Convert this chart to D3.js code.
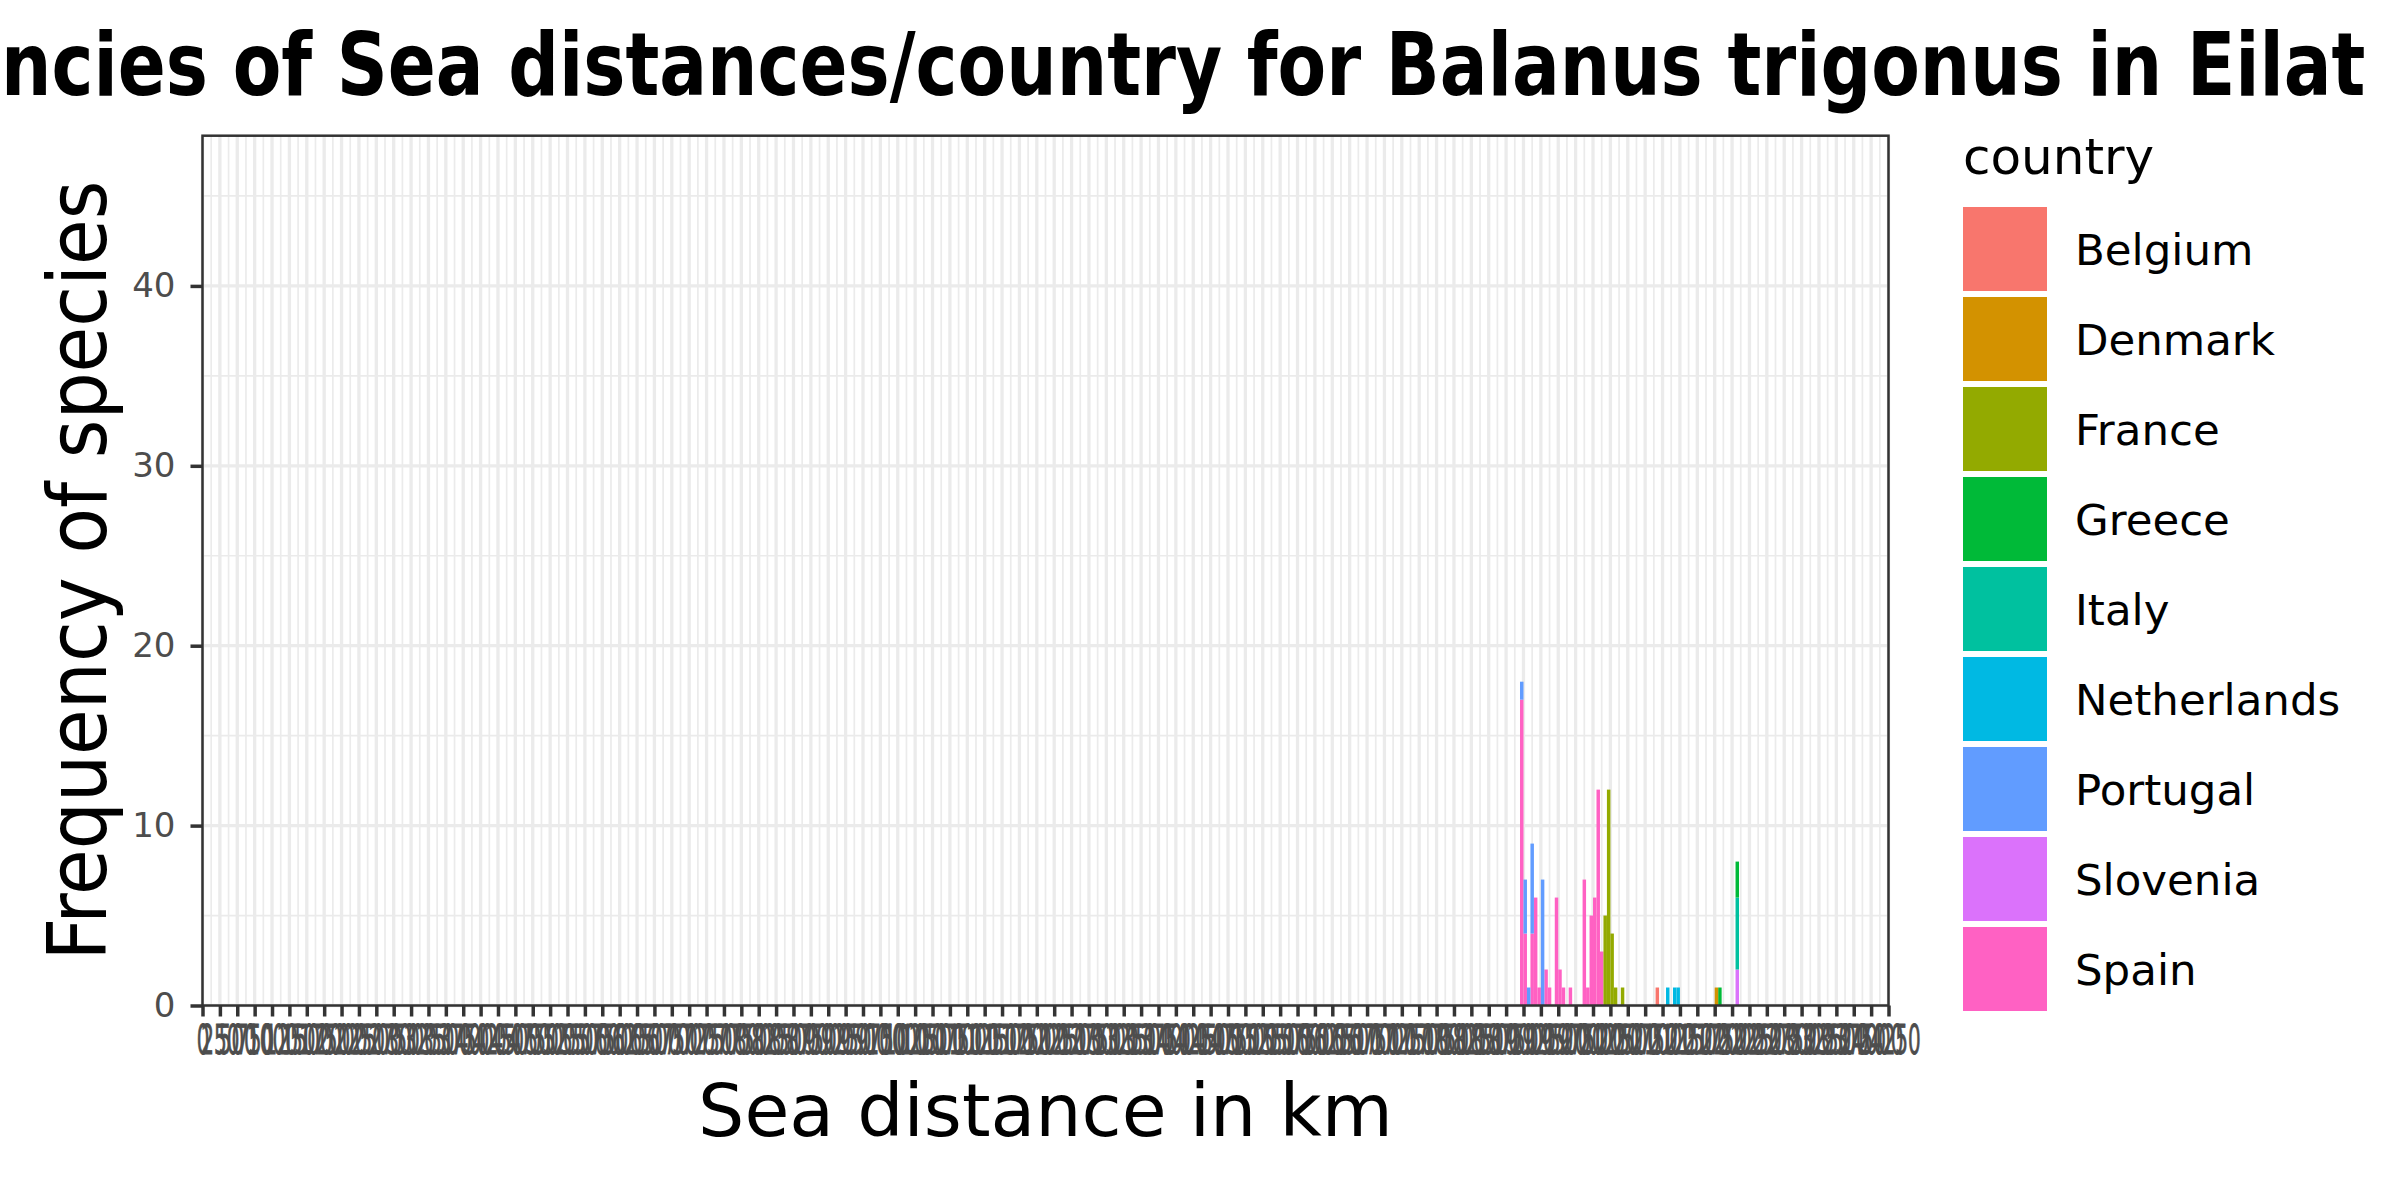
<!DOCTYPE html>
<html>
<head>
<meta charset="utf-8">
<script src="https://cdn.jsdelivr.net/npm/d3@7"></script>
<style>
body { margin: 0; background: #fff; }
</style>
</head>
<body>
<svg id="svg1" width="2400" height="1200"></svg>
<script>
// factor levels, ggplot hue colours
var countries = ["Belgium", "Denmark", "France", "Greece", "Italy", "Netherlands", "Portugal", "Slovenia", "Spain"];
var colours = ["#F8766D", "#D39200", "#93AA00", "#00BA38", "#00C19F", "#00B9E3", "#619CFF", "#DB72FB", "#FF61C3"];

// histogram, 50 km bins : left edge of bin, country, count
var binKm = [18950, 18950, 19000, 19000, 19050, 19100, 19100, 19150, 19200, 19250, 19300, 19350,
             19450, 19500, 19550, 19650, 19850, 19900, 19950, 20000, 20050, 20100,
             20150, 20200, 20250, 20300, 20400, 20900, 21050, 21150, 21200, 21750, 21800,
             22050, 22050, 22050];
var binCountry = ["Spain", "Portugal", "Spain", "Portugal", "Portugal", "Spain", "Portugal", "Spain", "Spain", "Portugal", "Spain", "Spain",
                  "Spain", "Spain", "Spain", "Spain", "Spain", "Spain", "Spain", "Spain", "Spain", "Spain",
                  "France", "France", "France", "France", "France", "Belgium", "Netherlands", "Netherlands", "Netherlands", "Denmark", "Greece",
                  "Slovenia", "Italy", "Greece"];
var binCount = [17, 1, 4, 3, 1, 4, 5, 6, 1, 7, 2, 1,
                6, 2, 1, 1, 7, 1, 5, 6, 12, 3,
                5, 12, 4, 1, 1, 1, 1, 1, 1, 1, 1,
                2, 4, 2];
var binWidth = 50;

var xBreaks = d3.range(0, 24251, 250);
var xMinor = d3.range(125, 24250, 250);
var yBreaks = [0, 10, 20, 30, 40];
var yMinor = [5, 15, 25, 35, 45];

var titleText = "Frequencies of Sea distances/country for Balanus trigonus in Eilat";
var xTitle = "Sea distance in km";
var yTitle = "Frequency of species";
var legendTitle = "country";

// panel edges (top is taken by window.top, so p*)
var pLeft = 202.5, pRight = 1888.5, pTop = 135.7, pBottom = 1005.5;

var svg = d3.select("#svg1");

var x = d3.scaleLinear().domain([0, 24250]).range([pLeft, pRight]);
var y = d3.scaleLinear().domain([0, 48.35]).range([pBottom, pTop]);
var colour = d3.scaleOrdinal().domain(countries).range(colours);

// grid
var grid = svg.append("g");
grid.selectAll(".vmin").data(xMinor).enter().append("line")
    .attr("x1", d => x(d)).attr("x2", d => x(d))
    .attr("y1", pTop).attr("y2", pBottom)
    .attr("stroke", "#EBEBEB").attr("stroke-width", 1.7);
grid.selectAll(".hmin").data(yMinor).enter().append("line")
    .attr("x1", pLeft).attr("x2", pRight)
    .attr("y1", d => y(d)).attr("y2", d => y(d))
    .attr("stroke", "#EBEBEB").attr("stroke-width", 1.7);
grid.selectAll(".vmaj").data(xBreaks).enter().append("line")
    .attr("x1", d => x(d)).attr("x2", d => x(d))
    .attr("y1", pTop).attr("y2", pBottom)
    .attr("stroke", "#EBEBEB").attr("stroke-width", 3.3);
grid.selectAll(".hmaj").data(yBreaks).enter().append("line")
    .attr("x1", pLeft).attr("x2", pRight)
    .attr("y1", d => y(d)).attr("y2", d => y(d))
    .attr("stroke", "#EBEBEB").attr("stroke-width", 3.3);

// one row per bin, stacked with first level on top (like ggplot)
var bins = Array.from(new Set(binKm));
var table = bins.map(function (b) {
    var row = { km: b };
    countries.forEach(c => row[c] = 0);
    return row;
});
binKm.forEach(function (b, i) {
    table[bins.indexOf(b)][binCountry[i]] += binCount[i];
});

var stack = d3.stack().keys(countries.slice().reverse());
var layers = stack(table);

svg.append("g").selectAll("g").data(layers).enter().append("g")
    .attr("fill", d => colour(d.key))
    .selectAll("rect").data(d => d.filter(p => p[1] > p[0])).enter().append("rect")
    .attr("x", d => x(d.data.km))
    .attr("width", d => x(d.data.km + binWidth) - x(d.data.km))
    .attr("y", d => y(d[1]))
    .attr("height", d => y(d[0]) - y(d[1]));

// panel border
svg.append("rect")
    .attr("x", pLeft).attr("y", pTop)
    .attr("width", pRight - pLeft).attr("height", pBottom - pTop)
    .attr("fill", "none").attr("stroke", "#333333").attr("stroke-width", 2.5);

// axes
var xAxis = svg.append("g")
    .attr("transform", "translate(0," + pBottom + ")")
    .call(d3.axisBottom(x).tickValues(xBreaks).tickFormat(d3.format("d")).tickSize(11).tickPadding(9));
xAxis.select(".domain").remove();
xAxis.selectAll("line").attr("stroke", "#333333").attr("stroke-width", 3.5);
xAxis.selectAll("text")
    .attr("fill", "#4D4D4D")
    .attr("font-family", "DejaVu Sans")
    .attr("font-size", 40)
    .attr("stroke", "#4D4D4D")
    .attr("stroke-width", 0.8)
    .attr("transform", "scale(0.5,1)");

var yAxis = svg.append("g")
    .attr("transform", "translate(" + pLeft + ",0)")
    .call(d3.axisLeft(y).tickValues(yBreaks).tickSize(12).tickPadding(15));
yAxis.select(".domain").remove();
yAxis.selectAll("line").attr("stroke", "#333333").attr("stroke-width", 3.5);
yAxis.selectAll("text")
    .attr("fill", "#4D4D4D")
    .attr("font-family", "DejaVu Sans")
    .attr("font-size", 34);

// titles
svg.append("text")
    .attr("x", (pLeft + pRight) / 2).attr("y", 95)
    .attr("text-anchor", "middle")
    .attr("font-family", "DejaVu Sans Condensed, DejaVu Sans")
    .attr("font-weight", "bold")
    .attr("font-size", 88)
    .attr("textLength", 2640)
    .attr("lengthAdjust", "spacingAndGlyphs")
    .text(titleText);

svg.append("text")
    .attr("x", (pLeft + pRight) / 2).attr("y", 1136)
    .attr("text-anchor", "middle")
    .attr("font-family", "DejaVu Sans")
    .attr("font-size", 73)
    .text(xTitle);

svg.append("text")
    .attr("transform", "translate(106," + (pTop + pBottom) / 2 + ") rotate(-90)")
    .attr("text-anchor", "middle")
    .attr("font-family", "DejaVu Sans Condensed, DejaVu Sans")
    .attr("font-size", 82)
    .attr("textLength", 780)
    .attr("lengthAdjust", "spacingAndGlyphs")
    .text(yTitle);

// legend
var legend = svg.append("g").attr("transform", "translate(1963,0)");
legend.append("text")
    .attr("x", 0).attr("y", 174)
    .attr("font-family", "DejaVu Sans")
    .attr("font-size", 50)
    .text(legendTitle);

var keys = legend.selectAll(".key").data(countries).enter().append("g")
    .attr("transform", (d, i) => "translate(0," + (207 + i * 90) + ")");
keys.append("rect")
    .attr("width", 84).attr("height", 84)
    .attr("fill", d => colour(d));
keys.append("text")
    .attr("x", 112).attr("y", 58)
    .attr("font-family", "DejaVu Sans")
    .attr("font-size", 43.5)
    .text(d => d);
</script>
</body>
</html>
